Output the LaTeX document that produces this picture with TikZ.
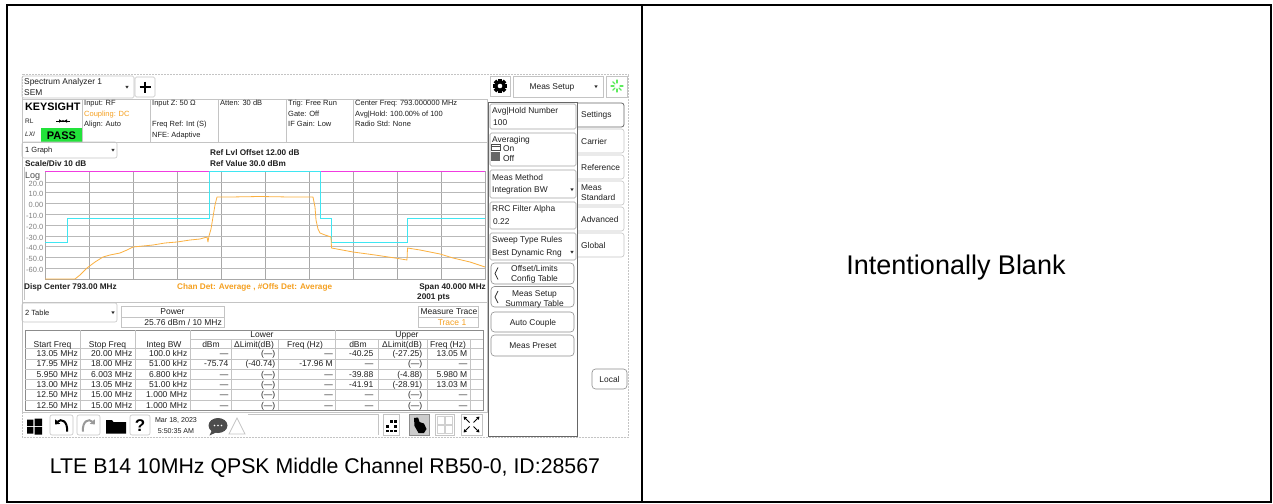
\documentclass[tikz,border=0pt]{standalone}
\usepackage{fontspec}
\setmainfont{Liberation Sans}
\usetikzlibrary{arrows.meta}
\definecolor{orng}{HTML}{F5A020}
\definecolor{trc}{HTML}{FBB040}
\definecolor{cyn}{HTML}{3FE6F2}
\definecolor{mag}{HTML}{F03CE0}
\definecolor{passg}{HTML}{22E23A}
\definecolor{lgray}{HTML}{C4C4C4}
\definecolor{mgray}{HTML}{8C8C8C}
\definecolor{gridc}{HTML}{A8A8A8}
\definecolor{spin}{HTML}{5CEB5C}
\newcount\nodecnt
\newcommand\TT[3][]{\global\advance\nodecnt by 1\relax\node[txt,#1] (t\the\nodecnt) at (#2) {#3};}
\newcommand\dd[2]{\fill[black!80] ({#1-1.7},{#2-1.1}) -- ({#1+1.7},{#2-1.1}) -- (#1,{#2+1.6}) -- cycle;}
\newcommand\chev[2]{\draw[black!80,line width=0.8pt] ({#1+3},{#2-6}) -- (#1,#2) -- ({#1+3},{#2+6});}
\begin{document}
\begin{tikzpicture}[x=1pt,y=-1pt,
  txt/.style={inner sep=0pt,anchor=west,text=black!88,font=\fontsize{7.5}{8}\selectfont,text height=5.4pt,text depth=0pt},
  hdr/.style={font=\fontsize{8.4}{9}\selectfont,text height=6pt},
  pnl/.style={font=\fontsize{8.4}{9}\selectfont,text height=6pt},
  tbl/.style={font=\fontsize{8.5}{9}\selectfont,text height=6.1pt},
  bld/.style={font=\bfseries\fontsize{8.2}{9}\selectfont,text height=5.9pt},
  ctr/.style={anchor=center},
  rt/.style={anchor=east},
  ln/.style={draw=lgray,line width=0.6pt},
  pbox/.style={draw=mgray!80,line width=0.6pt,rounded corners=1.5pt},
  btn/.style={draw=mgray,line width=0.6pt,rounded corners=3.5pt},
]
\useasboundingbox (0,0) rectangle (1273,503);
\fill[white] (0,0) rectangle (1273,503);
% outer frame
\draw[line width=1.7pt] (7,5) rectangle (1271,502);
\draw[line width=1.7pt] (642,5) -- (642,502);
\node[inner sep=0pt,anchor=base,font=\fontsize{21.3}{24}\selectfont] (cap) at (325,473) {LTE B14 10MHz QPSK Middle Channel RB50-0, ID:28567};
\node[inner sep=0pt,anchor=base,font=\fontsize{27}{30}\selectfont] (blank) at (956,274.5) {Intentionally Blank};
% screenshot boundary
\draw[lgray,densely dotted,line width=0.5pt] (22,74) rectangle (628,437);
% ---------- top header
\draw[ln,rounded corners=1.5pt] (22,76) rectangle (134,98);
\TT[hdr]{24,81.5}{Spectrum Analyzer 1}
\TT[hdr]{24,92}{SEM}
\dd{127}{87}
\draw[ln,rounded corners=1.5pt] (135,77) rectangle (155,97);
\draw[line width=1.6pt] (139.5,87)--(150.5,87) (145,81.5)--(145,92.5);
% gear
\draw[ln] (490,76) rectangle (510,96);
\foreach \a in {0,45,...,315} \fill[black,rotate around={\a:(500,86)}] (498.2,78.8) rectangle (501.8,82);
\fill (500,86) circle (5.3);
\fill[white] (500,86) circle (2.3);
\draw[ln] (513,76) rectangle (603,97);
\TT[hdr,ctr]{552,86.5}{Meas Setup}
\dd{596}{86.5}
\draw[ln] (606,76) rectangle (627,97);
\foreach \a in {0,45,...,270} \draw[spin,line width=1.2pt,line cap=round] ({617+3*cos(\a)},{86+3*sin(\a)}) -- ({617+6*cos(\a)},{86+6*sin(\a)});
% ---------- info bar
\draw[ln] (22,99) rectangle (487,142);
\foreach \x in {82,150,218,286,353} \draw[ln] (\x,99)--(\x,142);
\TT[font=\bfseries\fontsize{10.8}{12}\selectfont,text height=7.8pt,text=black]{25,106.5}{KEYSIGHT}
\TT[font=\fontsize{6.5}{7}\selectfont,text height=4.7pt]{25,121}{RL}
\draw[line width=0.6pt] (56,121)--(70,121);
\fill (59,119.3)--(62,121)--(59,122.7)--cycle;
\fill (67,119.3)--(64,121)--(67,122.7)--cycle;
\fill (63,121) circle (1.1);
\TT[font=\itshape\fontsize{6.5}{7}\selectfont,text height=4.7pt]{25,134.5}{LXI}
\fill[passg] (41,128) rectangle (82,142);
\TT[ctr,font=\bfseries\fontsize{11}{12}\selectfont,text height=8pt,text=black]{61.5,135.3}{PASS}
\TT{84,103}{Input: RF}
\TT[text=orng]{84,113.5}{Coupling: DC}
\TT{84,124}{Align: Auto}
\TT{152,103}{Input Z: 50 Ω}
\TT{152,124}{Freq Ref: Int (S)}
\TT{152,134.5}{NFE: Adaptive}
\TT{220,103}{Atten: 30 dB}
\TT{288,103}{Trig: Free Run}
\TT{288,113.5}{Gate: Off}
\TT{288,124}{IF Gain: Low}
\TT{355,103}{Center Freq: 793.000000 MHz}
\TT{355,113.5}{Avg|Hold: 100.00\% of 100}
\TT{355,124}{Radio Std: None}
% ---------- graph pane
\draw[ln] (22,142) rectangle (487,302);
\draw[ln,rounded corners=2pt] (22,142) rectangle (117,158);
\TT{25,150}{1 Graph}
\dd{113}{150}
\TT[bld]{210,153}{Ref Lvl Offset 12.00 dB}
\TT[bld]{210,163.5}{Ref Value 30.0 dBm}
\TT[bld]{25,163.5}{Scale/Div 10 dB}
\draw[ln] (24,167)--(24,300);
\TT[font=\fontsize{9}{10}\selectfont,text height=6.5pt,text=black!70]{25,175.5}{Log}
\foreach \k in {1,...,9} \draw[gridc,line width=0.45pt] ({45+44*\k},171) -- ({45+44*\k},279);
\foreach \k in {1,...,9} \draw[gridc!80,line width=0.45pt] (45,{171+10.8*\k}) -- (485,{171+10.8*\k});
\draw[gridc,line width=0.5pt] (45,171) rectangle (485,279);
\foreach \v/\k in {20.0/1,10.0/2,0.00/3,-10.0/4,-20.0/5,-30.0/6,-40.0/7,-50.0/8,-60.0/9}
  \TT[rt,text=black!50]{43.5,{171+10.8*\k+1.5}}{\v}
\draw[mag,line width=0.9pt] (45,171) -- (485,171);
\draw[cyn,line width=0.9pt] (45,242)--(67,242)--(67,218)--(209,218)--(209,171)--(320,171)--(320,218)--(331,218)--(331,242)--(407,242)--(407,218)--(485,218);
\draw[trc,line width=0.8pt,line join=round] (45,279)--(75,279)--(80,275)--(87,268)--(95,262)--(103,257)--(110,255)--(120,253)--(127,250)--(133,247)--(143,246)--(153,245)--(165,243)--(177,242)--(190,240)--(200,239)--(207,237)--(208,242)--(209,236)--(211,229)--(213,217)--(215,205)--(217,197)--(230,197)--(260,196.5)--(290,197)--(313,197)--(315,207)--(316,220)--(318,229)--(320,233)--(325,235)--(331,237)--(331.5,248)--(353,252)--(375,255)--(395,258)--(407,260)--(407.5,248)--(420,250)--(440,254)--(453,258)--(470,262)--(485,267);
\TT[bld]{24,286.5}{Disp Center 793.00 MHz}
\TT[bld,text=orng]{177,286.5}{Chan Det: Average , \#Offs Det: Average}
\TT[bld,rt]{486,286.5}{Span 40.000 MHz}
\TT[bld]{417,297}{2001 pts}
% ---------- table pane
\draw[ln] (22,302) rectangle (487,412);
\draw[ln,rounded corners=2pt] (22,303) rectangle (117,322);
\TT{25,312.5}{2 Table}
\dd{113}{312.5}
\draw[ln] (121,306) rectangle (224,327) (121,317)--(224,317);
\TT[tbl,ctr]{172.5,311.5}{Power}
\TT[tbl,rt]{222,322}{25.76 dBm / 10 MHz}
\draw[ln] (418,306) rectangle (478,327) (418,317)--(478,317);
\TT[tbl,ctr]{449,311.5}{Measure Trace}
\TT[tbl,ctr,text=orng]{452,322}{Trace 1}
\draw[mgray,line width=0.6pt] (25,330) rectangle (483,410.3);
\foreach \x in {80,135,190,335} \draw[ln] (\x,330)--(\x,410.3);
\foreach \x in {231,278,378,427,470} \draw[ln] (\x,339)--(\x,410.3);
\draw[ln] (190,339)--(483,339);
\foreach \k in {0,...,5} \draw[ln] (25,{348.5+10.3*\k})--(483,{348.5+10.3*\k});
\TT[tbl,ctr]{262,334.5}{Lower}
\TT[tbl,ctr]{407,334.5}{Upper}
\TT[tbl,ctr]{52.5,344.5}{Start Freq}
\TT[tbl,ctr]{107.5,344.5}{Stop Freq}
\TT[tbl,ctr]{164,344.5}{Integ BW}
\TT[tbl,ctr]{211,344.5}{dBm}
\TT[tbl,ctr]{254,344.5}{ΔLimit(dB)}
\TT[tbl,ctr]{305,344.5}{Freq (Hz)}
\TT[tbl,ctr]{358,344.5}{dBm}
\TT[tbl,ctr]{402,344.5}{ΔLimit(dB)}
\TT[tbl,ctr]{448,344.5}{Freq (Hz)}
\foreach \k/\a/\b/\c/\d/\e/\f/\g/\h/\i in {
 0/13.05 MHz/20.00 MHz/100.0 kHz/---/(---)/---/-40.25/(-27.25)/13.05 M,
 1/17.95 MHz/18.00 MHz/51.00 kHz/-75.74/(-40.74)/-17.96 M/---/(---)/---,
 2/5.950 MHz/6.003 MHz/6.800 kHz/---/(---)/---/-39.88/(-4.88)/5.980 M,
 3/13.00 MHz/13.05 MHz/51.00 kHz/---/(---)/---/-41.91/(-28.91)/13.03 M,
 4/12.50 MHz/15.00 MHz/1.000 MHz/---/(---)/---/---/(---)/---,
 5/12.50 MHz/15.00 MHz/1.000 MHz/---/(---)/---/---/(---)/---}{
  \TT[tbl,rt]{78,{353.6+10.3*\k}}{\a}
  \TT[tbl,rt]{132.5,{353.6+10.3*\k}}{\b}
  \TT[tbl,rt]{187.5,{353.6+10.3*\k}}{\c}
  \TT[tbl,rt]{228.5,{353.6+10.3*\k}}{\d}
  \TT[tbl,rt]{275.5,{353.6+10.3*\k}}{\e}
  \TT[tbl,rt]{333,{353.6+10.3*\k}}{\f}
  \TT[tbl,rt]{373.5,{353.6+10.3*\k}}{\g}
  \TT[tbl,rt]{422.5,{353.6+10.3*\k}}{\h}
  \TT[tbl,rt]{467.5,{353.6+10.3*\k}}{\i}
}
% ---------- toolbar
\fill (27,419.5) rectangle (33.3,426) (34.5,418.5) rectangle (42,426) (27,427.2) rectangle (33.3,433.5) (34.5,427.2) rectangle (42,434.5);
\draw[ln,rounded corners=2pt] (50,415) rectangle (73,435);
\draw[line width=2pt,{Triangle[length=4pt,width=6.5pt]}-] (55,424.5) .. controls (61,418) and (68,421) .. (67,431.5);
\draw[ln,rounded corners=2pt] (77,415) rectangle (100,435);
\draw[black!40,line width=2pt,-{Triangle[length=4pt,width=6.5pt]}] (83,431.5) .. controls (82,421) and (89,418) .. (95,424.5);
\fill (106,420) -- (112,420) -- (113.5,422) -- (126,422) -- (126,433.5) -- (106,433.5) -- cycle;
\draw[ln,rounded corners=2pt] (130,415) rectangle (150,435);
\TT[ctr,font=\bfseries\fontsize{17}{18}\selectfont,text height=12pt,text=black]{140,425.5}{?}
\node[inner sep=0pt,anchor=center,align=center,text=black!88,font=\fontsize{7.1}{11}\selectfont] (date) at (176,425.5) {Mar 18, 2023\\5:50:35 AM};
\fill[black!70] (218,425.5) ellipse (9.5 and 7.5);
\fill[black!70] (212,430) -- (209.5,435.5) -- (217,432) -- cycle;
\foreach \x in {214.5,218,221.5} \fill[white] (\x,425.5) circle (0.9);
\draw[lgray,line width=0.8pt] (229,434)--(237,418)--(245,434)--cycle;
\draw[ln] (248,414) -- (378,414) -- (378,435);
\draw[ln] (383,414) rectangle (399,435);
\foreach \x/\y in {390/420,394/420,386/425,394/425,386/429.5,390/429.5,394/429.5} \fill (\x,\y) rectangle ({\x+2.8},{\y+2.8});
\draw[mgray,fill=black!20] (409,414) rectangle (429,435);
\fill (414,418) -- (418,417.5) -- (419.5,422) -- (424,423.5) -- (426.5,429) -- (424,433) -- (418.5,433) -- (414.5,426) -- cycle;
\draw[ln] (435,414) rectangle (454,435);
\draw[lgray!80,line width=0.6pt] (437,416) rectangle (444,424) (445,416) rectangle (452,424) (437,425) rectangle (444,433) (445,425) rectangle (452,433);
\draw[ln] (461,414) rectangle (482,435);
\foreach \dx/\dy in {-1/-1,1/-1,-1/1,1/1}
  \draw[line width=1pt,-{Triangle[length=3pt,width=3.5pt]}] ({471.5+2*\dx},{424.5+2*\dy}) -- ({471.5+8*\dx},{424.5+8*\dy});
% ---------- right panel
\draw[black!60,line width=0.8pt] (488,102) rectangle (577,436);
\draw[pbox] (490,104) rectangle (576,129);
\TT[pnl]{492,110.5}{Avg|Hold Number}
\TT[pnl]{493,122.5}{100}
\draw[pbox] (490,133) rectangle (576,166);
\TT[pnl]{492,139.5}{Averaging}
\draw[black!70,line width=0.6pt] (491,144) rectangle (500,150.5) (491,146)--(500,146);
\fill[black!60] (491,152) rectangle (500,160.5);
\TT[pnl]{503,148}{On}
\TT[pnl]{503,158}{Off}
\draw[pbox] (490,170) rectangle (576,198);
\TT[pnl]{492,177}{Meas Method}
\TT[pnl]{492,189.5}{Integration BW}
\dd{572}{189.5}
\draw[pbox] (490,202) rectangle (576,229);
\TT[pnl]{492,208.5}{RRC Filter Alpha}
\TT[pnl]{493,221.5}{0.22}
\draw[pbox] (490,233) rectangle (576,260);
\TT[pnl]{492,239.5}{Sweep Type Rules}
\TT[pnl]{492,252}{Best Dynamic Rng}
\dd{572}{252}
\draw[btn] (491,263) rectangle (574,284);
\chev{495}{273.5}
\TT[pnl,ctr]{534.5,268.5}{Offset/Limits}
\TT[pnl,ctr]{534.5,278.5}{Config Table}
\draw[btn] (491,286.5) rectangle (574,307);
\chev{495}{297}
\TT[pnl,ctr]{534.5,293.5}{Meas Setup}
\TT[pnl,ctr]{534.5,303}{Summary Table}
\draw[btn] (491,312) rectangle (574,332);
\TT[pnl,ctr]{533,322}{Auto Couple}
\draw[btn] (491,335) rectangle (574,356);
\TT[pnl,ctr]{533,345.5}{Meas Preset}
% tabs
\draw[black!60,line width=0.8pt,rounded corners=2.5pt] (577,103) -- (624,103) -- (624,127) -- (577,127);
\TT[pnl]{581,114.5}{Settings}
\foreach \k/\s in {1/Carrier,2/Reference,4/Advanced,5/Global}{
  \draw[ln,rounded corners=2.5pt] (578,{103+26*\k}) -- (624,{103+26*\k}) -- (624,{127+26*\k}) -- (578,{127+26*\k});
  \TT[pnl]{581,{115+26*\k}}{\s}
}
\draw[ln,rounded corners=2.5pt] (578,181) -- (624,181) -- (624,205) -- (578,205);
\TT[pnl]{581,187.5}{Meas}
\TT[pnl]{581,197}{Standard}
\draw[btn] (592,369) rectangle (627,389);
\TT[pnl,ctr]{609.5,379.5}{Local}
\end{tikzpicture}
\end{document}
